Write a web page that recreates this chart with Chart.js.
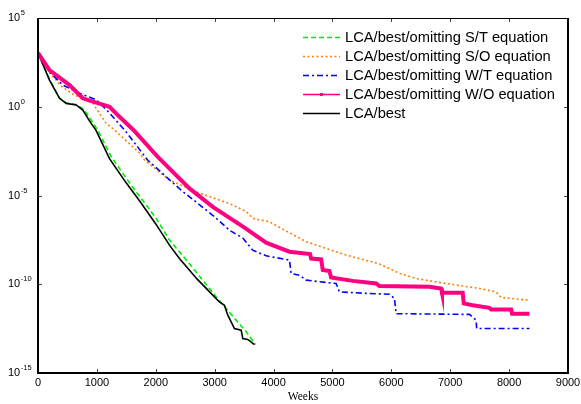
<!DOCTYPE html>
<html>
<head>
<meta charset="utf-8">
<script src="https://cdn.jsdelivr.net/npm/chart.js@4"></script>
<style>
  body { margin: 0; background: #fff; }
  canvas { display: block; }
</style>
</head>
<body>
<canvas id="convChart" width="581" height="404"></canvas>
<script>
// residual vs. weeks for each LCA variant
const stWeeks = [0, 195, 365, 479, 648, 780, 900, 1020, 1250, 1600, 2000, 2233, 2600, 3025, 3365, 3535, 3693];
const stValues = [1.1e3, 35, 3.2, 1.66, 1.32, 0.71, 0.18, 4.5e-2, 1.4e-3, 3.2e-5, 5.6e-7, 3.1e-8, 1.1e-9, 1.95e-11, 9.5e-13, 2.1e-13, 4.0e-14];

const soWeeks = [0, 200, 400, 600, 800, 931, 1158, 1299, 1723, 1808, 2233, 2686, 3251, 3535, 3647, 3930, 4100, 4553, 5232, 5798, 6138, 6421, 6930, 7496, 7779, 7864, 8345];
const soValues = [1.1e3, 79, 14, 5.0, 2.5, 1.55, 0.115, 4.9e-2, 2.5e-3, 1.0e-3, 7.4e-5, 1.6e-5, 3.5e-6, 1.26e-6, 5.1e-7, 3.3e-7, 1.6e-7, 2.5e-8, 4.4e-9, 1.4e-9, 4.1e-10, 2.1e-10, 1.1e-10, 5.8e-11, 3.7e-11, 1.8e-11, 1.26e-11];

const wtWeeks = [0, 195, 421, 705, 988, 1186, 1480, 1860, 2430, 3000, 3251, 3478, 3647, 3874, 4270, 4298, 4440, 4553, 5062, 5119, 5628, 5968, 6053, 6081, 7326, 7439, 7450, 8345];
const wtValues = [1.1e3, 93, 16.6, 5.75, 2.5, 0.56, 4.5e-2, 1.0e-3, 2.0e-5, 6.3e-7, 1.1e-7, 4.0e-8, 8.3e-9, 4.0e-9, 2.3e-9, 4.1e-10, 3.2e-10, 1.7e-10, 1.1e-10, 3.7e-11, 3.0e-11, 2.75e-11, 1.6e-11, 2.2e-12, 2.0e-12, 9.5e-13, 3.2e-13, 3.2e-13];

const woWeeks = [0, 195, 535, 761, 988, 1214, 1380, 1620, 2034, 2402, 2572, 2968, 3500, 3874, 4270, 4620, 4638, 4808, 4836, 4949, 4977, 5345, 5742, 5798, 6647, 6845, 6860, 7212, 7230, 7382, 7666, 7695, 8034, 8050, 8345];
const woValues = [1.1e3, 117, 16.6, 3.0, 1.7, 1.0, 0.28, 4.9e-2, 1.5e-3, 9.1e-5, 2.5e-5, 2.3e-6, 1.6e-7, 2.2e-8, 6.8e-9, 5.0e-9, 2.8e-9, 2.5e-9, 6.3e-10, 5.6e-10, 2.4e-10, 1.55e-10, 1.1e-10, 7.9e-11, 7.2e-11, 5.8e-11, 3.3e-11, 3.3e-11, 8.3e-12, 6.6e-12, 4.7e-12, 3.8e-12, 3.8e-12, 2.2e-12, 2.2e-12];

const bestWeeks = [0, 195, 365, 479, 648, 761, 874, 988, 1214, 1500, 1724, 2000, 2233, 2402, 2700, 2997, 3081, 3166, 3223, 3336, 3450, 3478, 3562, 3676];
const bestValues = [1.1e3, 32, 3.0, 1.55, 1.26, 0.65, 0.16, 4.5e-2, 1.2e-3, 5.0e-5, 5.0e-6, 2.5e-7, 1.6e-8, 2.8e-9, 2.0e-10, 1.95e-11, 1.0e-11, 6.6e-12, 1.8e-12, 3.2e-13, 2.6e-13, 8.7e-14, 7.8e-14, 4.0e-14];

const xTicks = [0, 1000, 2000, 3000, 4000, 5000, 6000, 7000, 8000, 9000];
const yTicks = [1e5, 1e0, 1e-5, 1e-10, 1e-15];
const yExponents = ['5', '0', '-5', '-10', '-15'];

function pts(xs, ys) {
  return xs.map((x, i) => ({ x: x, y: ys[i] }));
}

// MATLAB-like box, inward ticks, tick labels and legend
const axesDecor = {
  id: 'axesDecor',
  afterDraw(chart) {
    const ctx = chart.ctx;
    const a = chart.chartArea;
    const xs = chart.scales.x, ys = chart.scales.y;
    ctx.save();

    // inward tick marks
    ctx.strokeStyle = '#444';
    ctx.lineWidth = 1;
    xTicks.forEach(t => {
      const px = Math.round(xs.getPixelForValue(t)) + 0.5;
      ctx.beginPath();
      ctx.moveTo(px, a.bottom); ctx.lineTo(px, a.bottom - 4);
      ctx.moveTo(px, a.top); ctx.lineTo(px, a.top + 4);
      ctx.stroke();
    });
    yTicks.forEach(t => {
      const py = Math.round(ys.getPixelForValue(t)) + 0.5;
      ctx.beginPath();
      ctx.moveTo(a.left, py); ctx.lineTo(a.left + 4, py);
      ctx.moveTo(a.right, py); ctx.lineTo(a.right - 4, py);
      ctx.stroke();
    });

    // box
    ctx.strokeStyle = '#000';
    ctx.lineWidth = 1;
    ctx.beginPath();
    ctx.moveTo(a.left, a.top + 0.5); ctx.lineTo(a.right, a.top + 0.5);
    ctx.stroke();
    ctx.lineWidth = 2;
    ctx.beginPath();
    ctx.moveTo(a.left, a.top); ctx.lineTo(a.left, a.bottom);
    ctx.lineTo(a.right, a.bottom); ctx.lineTo(a.right, a.top);
    ctx.stroke();

    // x tick labels
    ctx.fillStyle = '#000';
    ctx.font = '11px "Liberation Sans", Arial, sans-serif';
    ctx.textAlign = 'center';
    ctx.textBaseline = 'middle';
    xTicks.forEach(t => {
      ctx.fillText(String(t), xs.getPixelForValue(t), a.bottom + 10);
    });

    // y tick labels: 10 with raised exponent
    ctx.textAlign = 'left';
    yTicks.forEach((t, i) => {
      const py = ys.getPixelForValue(t);
      ctx.font = '11px "Liberation Sans", Arial, sans-serif';
      ctx.fillText('10', 8, py);
      const w = ctx.measureText('10').width;
      ctx.font = '7.5px "Liberation Sans", Arial, sans-serif';
      ctx.fillText(yExponents[i], 8 + w + 0.5, py - 5);
    });

    // x axis title
    ctx.font = '11.5px "Liberation Serif", "Times New Roman", serif';
    ctx.textAlign = 'center';
    ctx.fillText('Weeks', (a.left + a.right) / 2, a.bottom + 24);

    // legend
    const lx0 = 303, lx1 = 340, tx = 345, ly0 = 37, step = 19;
    ctx.font = '14.7px "Liberation Sans", Arial, sans-serif';
    ctx.textAlign = 'left';
    chart.data.datasets.forEach((ds, i) => {
      const y = ly0 + i * step;
      ctx.save();
      ctx.strokeStyle = ds.legendColor;
      ctx.lineWidth = 1.5;
      ctx.setLineDash(ds.borderDash || []);
      ctx.beginPath();
      ctx.moveTo(lx0, y + 0.5); ctx.lineTo(lx1, y + 0.5);
      ctx.stroke();
      if (ds.legendMarker) {
        ctx.fillStyle = ds.legendColor;
        ctx.fillRect((lx0 + lx1) / 2 - 1.5, y - 1, 3, 3);
      }
      ctx.restore();
      ctx.fillStyle = '#000';
      ctx.fillText(ds.label, tx, y + 1);
    });

    ctx.restore();
  }
};

new Chart(document.getElementById('convChart'), {
  type: 'line',
  data: {
    datasets: [
      {
        label: 'LCA/best/omitting S/T equation',
        data: pts(stWeeks, stValues),
        borderColor: '#00ee00', legendColor: '#00ee00',
        borderWidth: 1.6, borderDash: [5, 3], order: 3
      },
      {
        label: 'LCA/best/omitting S/O equation',
        data: pts(soWeeks, soValues),
        borderColor: '#ff8000', legendColor: '#ff8000',
        borderWidth: 1.6, borderDash: [2, 2.5], order: 5
      },
      {
        label: 'LCA/best/omitting W/T equation',
        data: pts(wtWeeks, wtValues),
        borderColor: '#0000ff', legendColor: '#0000ff',
        borderWidth: 1.6, borderDash: [6, 3, 2, 3], order: 4
      },
      {
        label: 'LCA/best/omitting W/O equation',
        data: pts(woWeeks, woValues),
        borderColor: '#ff0080', legendColor: '#ff0080',
        borderWidth: 4, legendMarker: true, order: 1
      },
      {
        label: 'LCA/best',
        data: pts(bestWeeks, bestValues),
        borderColor: '#000000', legendColor: '#000000',
        borderWidth: 1.6, order: 2
      }
    ]
  },
  options: {
    responsive: false,
    animation: false,
    events: [],
    layout: { padding: { left: 38, right: 13, top: 18, bottom: 31 } },
    elements: { point: { radius: 0 }, line: { tension: 0 } },
    scales: {
      x: { type: 'linear', min: 0, max: 9000, display: false },
      y: { type: 'logarithmic', min: 1e-15, max: 1e5, display: false }
    },
    plugins: {
      legend: { display: false },
      tooltip: { enabled: false }
    }
  },
  plugins: [axesDecor]
});
</script>
</body>
</html>
